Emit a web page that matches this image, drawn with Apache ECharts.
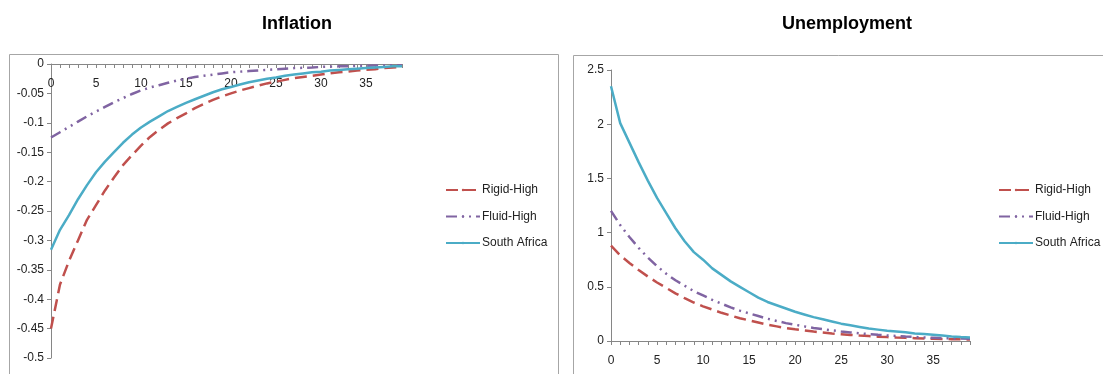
<!DOCTYPE html>
<html>
<head>
<meta charset="utf-8">
<script src="https://cdn.jsdelivr.net/npm/echarts@6/dist/echarts.min.js"></script>
<style>
html,body{margin:0;padding:0;background:#fff;}
#chart{width:1103px;height:374px;}
</style>
</head>
<body>
<div id="chart"></div>
<script>
// ---- data ----
const periods = Array.from({length: 40}, (_, i) => String(i));
const seriesNames = ['Rigid-High', 'Fluid-High', 'South Africa'];

const inflRigid = [-0.45,-0.375,-0.335,-0.300,-0.265,-0.240,-0.215,-0.193,-0.172,-0.155,
  -0.139,-0.124,-0.112,-0.101,-0.092,-0.084,-0.075,-0.068,-0.061,-0.055,
  -0.050,-0.045,-0.041,-0.037,-0.033,-0.030,-0.027,-0.024,-0.022,-0.020,
  -0.018,-0.016,-0.014,-0.013,-0.011,-0.010,-0.009,-0.007,-0.006,-0.005];
const inflFluid = [-0.125,-0.116,-0.107,-0.098,-0.089,-0.081,-0.073,-0.065,-0.058,-0.051,
  -0.045,-0.040,-0.036,-0.032,-0.028,-0.025,-0.022,-0.020,-0.018,-0.016,
  -0.014,-0.013,-0.012,-0.011,-0.010,-0.009,-0.008,-0.007,-0.0065,-0.006,
  -0.005,-0.0045,-0.004,-0.0037,-0.0034,-0.003,-0.0027,-0.0024,-0.0022,-0.002];
const inflSA = [-0.316,-0.282,-0.257,-0.230,-0.206,-0.184,-0.166,-0.150,-0.134,-0.120,
  -0.108,-0.098,-0.089,-0.080,-0.073,-0.066,-0.060,-0.054,-0.048,-0.043,
  -0.039,-0.035,-0.031,-0.028,-0.025,-0.023,-0.020,-0.018,-0.016,-0.014,
  -0.013,-0.011,-0.010,-0.009,-0.008,-0.007,-0.006,-0.005,-0.004,-0.004];

const unempRigid = [0.88,0.79,0.72,0.655,0.595,0.54,0.49,0.44,0.395,0.355,
  0.32,0.29,0.26,0.235,0.21,0.19,0.17,0.15,0.135,0.12,
  0.108,0.097,0.087,0.078,0.07,0.063,0.056,0.05,0.045,0.04,
  0.036,0.032,0.029,0.026,0.023,0.021,0.019,0.017,0.015,0.013];
const unempFluid = [1.20,1.07,0.96,0.86,0.77,0.69,0.62,0.56,0.51,0.46,
  0.42,0.38,0.345,0.31,0.28,0.255,0.23,0.205,0.185,0.165,
  0.15,0.135,0.12,0.11,0.098,0.088,0.079,0.071,0.064,0.057,
  0.051,0.046,0.041,0.037,0.033,0.03,0.027,0.024,0.022,0.02];
const unempSA = [2.35,2.01,1.83,1.65,1.48,1.32,1.18,1.04,0.92,0.82,
  0.75,0.67,0.61,0.55,0.50,0.45,0.40,0.36,0.33,0.30,
  0.27,0.245,0.22,0.20,0.18,0.16,0.145,0.13,0.115,0.105,
  0.095,0.088,0.08,0.07,0.065,0.058,0.05,0.042,0.037,0.033];

const titles = ['Inflation', 'Unemployment'];

// ---- styles ----
const FONT = '"Liberation Sans", Arial, sans-serif';
const colors = ['#C0504D', '#8064A2', '#4BACC6'];
const dashTypes = [[12, 6], [11, 5, 2, 5, 2, 5], 'solid'];
const axisColor = '#868686';

function xAxisFor(gridIndex, margin, top) {
  return {
    type: 'category', gridIndex, data: periods, boundaryGap: false,
    position: top ? 'top' : 'bottom',
    axisLine: {onZero: false, lineStyle: {color: axisColor, width: 1}},
    axisTick: {show: true, interval: 0, length: 4, inside: !!top, lineStyle: {color: axisColor}},
    axisLabel: {interval: 4, margin, inside: !!top, color: '#222', fontFamily: FONT, fontSize: 12},
    splitLine: {show: false}
  };
}
function yAxisFor(gridIndex, min, max, interval) {
  return {
    type: 'value', gridIndex, min, max, interval,
    axisLine: {show: true, onZero: false, lineStyle: {color: axisColor, width: 1}},
    axisTick: {show: true, length: 4, lineStyle: {color: axisColor}},
    axisLabel: {margin: 7, color: '#222', fontFamily: FONT, fontSize: 12},
    splitLine: {show: false}
  };
}
function makeSeries(idx, data, name, axisIdx) {
  return {
    type: 'line', name, data, xAxisIndex: axisIdx, yAxisIndex: axisIdx,
    symbol: 'none', smooth: false, animation: false,
    lineStyle: {color: colors[idx], width: 2.5, type: dashTypes[idx]},
    itemStyle: {color: colors[idx]}
  };
}
function legendAt(left) {
  return {
    orient: 'vertical', left, top: 184, padding: 0, itemWidth: 34, itemHeight: 3, itemGap: 14.5,
    data: seriesNames,
    textStyle: {fontFamily: FONT, fontSize: 12, color: '#222', padding: [0, 0, 0, -3]},
    selectedMode: false
  };
}

const chart = echarts.init(document.getElementById('chart'), null, {renderer: 'canvas'});
chart.setOption({
  animation: false,
  backgroundColor: '#fff',
  title: [
    {text: titles[0], left: 292, top: 10, textAlign: 'center',
     textStyle: {fontFamily: FONT, fontWeight: 'bold', fontSize: 18, color: '#000'}},
    {text: titles[1], left: 842, top: 10, textAlign: 'center',
     textStyle: {fontFamily: FONT, fontWeight: 'bold', fontSize: 18, color: '#000'}}
  ],
  graphic: [
    {type: 'rect', shape: {x: 9.5, y: 54.5, width: 549, height: 400}, silent: true, z: -1,
     style: {fill: 'none', stroke: '#a6a6a6', lineWidth: 1}},
    {type: 'rect', shape: {x: 573.5, y: 55.5, width: 560, height: 400}, silent: true, z: -1,
     style: {fill: 'none', stroke: '#a6a6a6', lineWidth: 1}}
  ],
  legend: [legendAt(445), legendAt(998)],
  grid: [
    {left: 51, top: 64, width: 351, height: 294, containLabel: false},
    {left: 611, top: 70, width: 359, height: 271, containLabel: false}
  ],
  xAxis: [xAxisFor(0, 14, true), xAxisFor(1, 14, false)],
  yAxis: [yAxisFor(0, -0.5, 0, 0.05), yAxisFor(1, 0, 2.5, 0.5)],
  series: [
    makeSeries(0, inflRigid, seriesNames[0], 0),
    makeSeries(1, inflFluid, seriesNames[1], 0),
    makeSeries(2, inflSA, seriesNames[2], 0),
    makeSeries(0, unempRigid, seriesNames[0], 1),
    makeSeries(1, unempFluid, seriesNames[1], 1),
    makeSeries(2, unempSA, seriesNames[2], 1)
  ]
});
</script>
</body>
</html>
